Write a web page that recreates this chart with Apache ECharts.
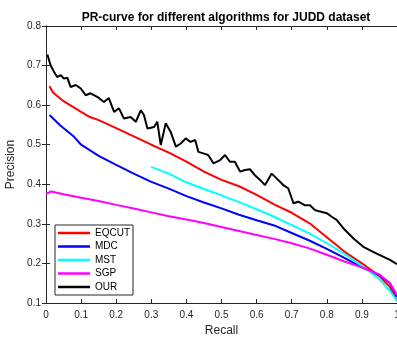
<!DOCTYPE html>
<html>
<head>
<meta charset="utf-8">
<script src="https://cdn.jsdelivr.net/npm/echarts@6/dist/echarts.min.js"></script>
<style>html,body{margin:0;padding:0;background:#fff;}#c{width:397px;height:337px;}</style>
</head>
<body>
<div id="c"></div>
<script>
const titleText = 'PR-curve for different algorithms for JUDD dataset';
const seriesNames = ['EQCUT', 'MDC', 'MST', 'SGP', 'OUR'];
const seriesColors = ['#ff0000', '#0000ff', '#00ffff', '#ff00ff', '#000000'];

const eqcut = [[0.01,0.648],[0.02,0.632],[0.05,0.61],[0.1,0.583],[0.125,0.570],[0.15,0.562],[0.2,0.542],[0.25,0.521],[0.3,0.500],[0.35,0.480],[0.4,0.457],[0.45,0.432],[0.5,0.411],[0.55,0.395],[0.6,0.373],[0.65,0.349],[0.7,0.328],[0.75,0.302],[0.8,0.266],[0.85,0.230],[0.9,0.200],[0.95,0.168],[0.98,0.140],[1.0,0.105]];
const mdc = [[0.01,0.575],[0.04,0.549],[0.08,0.52],[0.1,0.500],[0.15,0.472],[0.2,0.449],[0.25,0.427],[0.3,0.406],[0.35,0.389],[0.4,0.370],[0.45,0.354],[0.5,0.339],[0.55,0.323],[0.6,0.309],[0.65,0.296],[0.7,0.277],[0.75,0.258],[0.8,0.237],[0.85,0.214],[0.9,0.190],[0.95,0.170],[0.98,0.150],[1.0,0.116]];
const mst = [[0.3,0.444],[0.35,0.427],[0.4,0.405],[0.45,0.388],[0.5,0.372],[0.55,0.355],[0.6,0.337],[0.65,0.318],[0.7,0.297],[0.75,0.276],[0.8,0.251],[0.85,0.224],[0.9,0.194],[0.95,0.160],[0.98,0.130],[1.0,0.105]];
const sgp = [[0.0,0.375],[0.015,0.382],[0.05,0.375],[0.1,0.366],[0.15,0.358],[0.2,0.348],[0.25,0.339],[0.3,0.329],[0.35,0.319],[0.4,0.311],[0.45,0.302],[0.5,0.292],[0.55,0.282],[0.6,0.272],[0.65,0.262],[0.7,0.251],[0.75,0.238],[0.8,0.222],[0.85,0.205],[0.9,0.190],[0.95,0.172],[0.98,0.150],[1.0,0.120]];
const our = [[0.004,0.728],[0.013,0.701],[0.023,0.684],[0.032,0.671],[0.042,0.676],[0.051,0.667],[0.061,0.669],[0.070,0.646],[0.085,0.651],[0.099,0.642],[0.113,0.625],[0.127,0.630],[0.146,0.621],[0.165,0.608],[0.179,0.618],[0.194,0.583],[0.208,0.592],[0.222,0.566],[0.241,0.570],[0.256,0.558],[0.270,0.587],[0.279,0.575],[0.289,0.541],[0.308,0.545],[0.317,0.558],[0.327,0.499],[0.341,0.554],[0.355,0.533],[0.370,0.495],[0.384,0.503],[0.398,0.516],[0.412,0.507],[0.425,0.512],[0.434,0.482],[0.448,0.478],[0.462,0.474],[0.477,0.453],[0.496,0.461],[0.510,0.474],[0.524,0.457],[0.538,0.457],[0.553,0.432],[0.567,0.436],[0.581,0.438],[0.595,0.423],[0.610,0.411],[0.624,0.398],[0.643,0.427],[0.657,0.415],[0.676,0.398],[0.690,0.390],[0.705,0.352],[0.719,0.356],[0.738,0.347],[0.752,0.347],[0.766,0.335],[0.781,0.331],[0.800,0.327],[0.814,0.318],[0.828,0.310],[0.847,0.289],[0.876,0.263],[0.904,0.242],[0.942,0.225],[0.980,0.209],[1.0,0.198]];
const allData = [eqcut, mdc, mst, sgp, our];

const FONT = 'Liberation Sans, Arial, Helvetica, sans-serif';
const AX = '#262626';

const chart = echarts.init(document.getElementById('c'), null, {renderer: 'canvas'});
const axisCommon = {
  axisLine: {show: true, lineStyle: {color: AX, width: 1}},
  axisTick: {show: true, inside: true, length: 4, lineStyle: {color: AX}},
  splitLine: {show: false}
};
chart.setOption({
  animation: false,
  backgroundColor: '#fff',
  title: {
    text: titleText, left: 221, top: 7, textAlign: 'center',
    textStyle: {fontFamily: FONT, fontSize: 12, fontWeight: 'bold', color: '#000'}
  },
  grid: {left: 46, top: 26, width: 351, height: 277, containLabel: false, outerBoundsMode: 'none'},
  legend: {
    orient: 'vertical', left: 55, top: 225,
    data: seriesNames,
    icon: 'rect',
    itemWidth: 32, itemHeight: 2.5, itemGap: 1.5,
    padding: [2, 3, 2, 3],
    borderColor: AX, borderWidth: 1, backgroundColor: '#fff',
    textStyle: {fontFamily: FONT, fontSize: 10, color: '#000', lineHeight: 12}
  },
  xAxis: [
    Object.assign({}, axisCommon, {
      type: 'value', position: 'bottom', min: 0, max: 1, interval: 0.1,
      name: 'Recall', nameLocation: 'middle', nameGap: 22,
      nameTextStyle: {fontFamily: FONT, fontSize: 12, color: AX},
      axisLabel: {fontFamily: FONT, fontSize: 10, color: AX, margin: 7}
    }),
    Object.assign({}, axisCommon, {
      type: 'value', position: 'top', min: 0, max: 1, interval: 0.1,
      axisLabel: {show: false}
    })
  ],
  yAxis: [
    Object.assign({}, axisCommon, {
      type: 'value', position: 'left', min: 0.1, max: 0.8, interval: 0.1,
      name: 'Precision', nameLocation: 'middle', nameGap: 25,
      nameTextStyle: {fontFamily: FONT, fontSize: 12, color: AX},
      axisLabel: {fontFamily: FONT, fontSize: 10, color: AX, margin: 5}
    }),
    Object.assign({}, axisCommon, {
      type: 'value', position: 'right', min: 0.1, max: 0.8, interval: 0.1,
      axisLabel: {show: false}
    })
  ],
  series: seriesNames.map((n, i) => ({
    name: n, type: 'line', data: allData[i],
    xAxisIndex: 0, yAxisIndex: 0,
    symbol: 'none', showSymbol: false, smooth: false,
    color: seriesColors[i],
    itemStyle: {color: seriesColors[i]},
    lineStyle: {color: seriesColors[i], width: 2},
    z: i === 4 ? 5 : 2
  }))
});
</script>
</body>
</html>
